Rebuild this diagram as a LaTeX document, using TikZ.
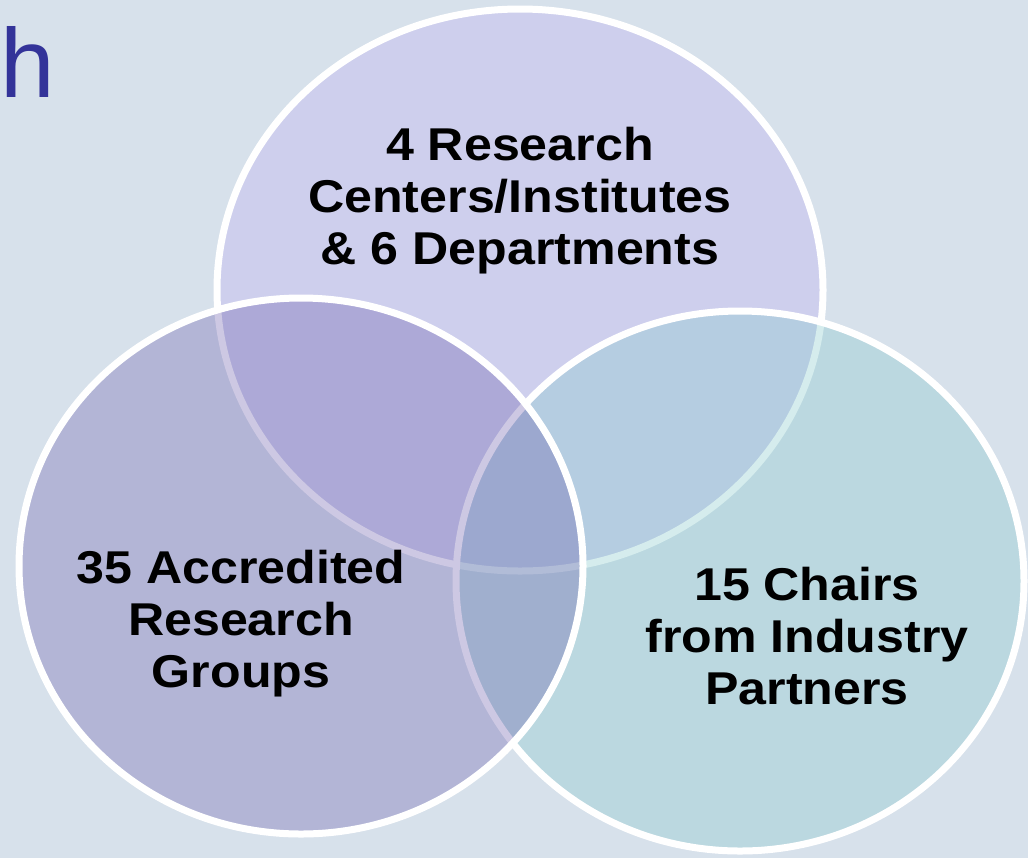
\documentclass[tikz,border=0pt]{standalone}
\usepackage{fontspec}
\setmainfont{Liberation Sans}
\newfontfamily\vennfont[FakeStretch=1.09]{Liberation Sans}

\tikzset{every picture/.style={line width=0.75pt}}
\tikzset{
  vennring/.style={draw=white, line width=5.25pt, fill opacity=0.35},
  venntext/.style={font=\vennfont\fontsize{34.5}{39}\selectfont\bfseries, align=center, inner sep=0.75pt, text=black}
}

\begin{document}
\begin{tikzpicture}[x=0.75pt,y=0.75pt,yscale=-1,xscale=1]
%set diagram size 1028 x 858
\useasboundingbox (0,0) rectangle (1028,858);
\clip (0,0) rectangle (1028,858);
\fill [fill={rgb, 255:red, 215; green, 225; blue, 235 }] (0,0) rectangle (1028,858);

%Shape: Ellipse [id:top]
\draw [vennring, fill={rgb, 255:red, 192; green, 174; blue, 243 }] (520,290) ellipse (303 and 281);
%Shape: Ellipse [id:right]
\draw [vennring, fill={rgb, 255:red, 135; green, 202; blue, 204 }] (740,581) ellipse (284 and 270);
%Shape: Ellipse [id:left]
\draw [vennring, fill={rgb, 255:red, 112; green, 99; blue, 175 }] (301,566) ellipse (282 and 268);

% Text Node
\node (h) at (0,97) [anchor=base west, inner sep=0pt, text={rgb, 255:red, 51; green, 51; blue, 153 }, font=\fontsize{73.5}{80}\selectfont] {h};
% Text Node
\node (centers) at (520,201) [venntext] {4 Research\\Centers/Institutes\\\& 6 Departments};
% Text Node
\node (groups) at (241,624) [venntext] {35 Accredited\\Research\\Groups};
% Text Node
\node (chairs) at (807,636) [venntext] {15 Chairs\\from Industry\\Partners};

\end{tikzpicture}
\end{document}
